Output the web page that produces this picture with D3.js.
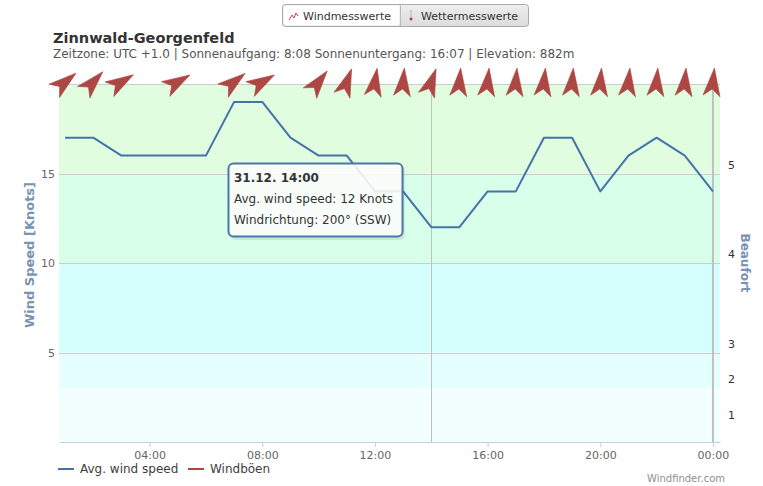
<!DOCTYPE html>
<html><head><meta charset="utf-8">
<script src="https://cdn.jsdelivr.net/npm/d3@7/dist/d3.min.js"></script>
<style>
body{margin:0;background:#fff;}
svg{display:block;font-family:"DejaVu Sans",Verdana,sans-serif;}
</style>
</head><body>
<svg id="chart" width="763" height="486"></svg>
<script>
// ---------- data ----------
const hours = [1,2,3,4,5,6,7,8,9,10,11,12,13,14,15,16,17,18,19,20,21,22,23,24];
const avgSpeed = [17,17,16,16,16,16,19,19,17,16,16,14,14,12,12,14,14,17,17,14,16,17,16,14];
const windDir = [231,223,239,null,240,null,232,240,null,218,200,189,185,200,185,186,185,186,185,185,186,185,185,186];
const gusts = [];
const leftTicks = [5,10,15,20];
const bftTickKnots = [1,3,5,10,15];
const bftLabels = ["1","2","3","4","5"];
const bandEdges = [0,3,5,10,15,20];
const xTickHours = [4,8,12,16,20,24];
const hoverHour = 14;
const seriesNames = ["Avg. wind speed","Windböen"];

// ---------- layout ----------
const svg = d3.select("#chart");
const day = h => new Date(2013,11,31,0,0).getTime() + h*3600000;
const plot = {left:59, right:720, top:84, bottom:442};
const x = d3.scaleTime().domain([new Date(day(47/60)), new Date(day(24.25))]).range([plot.left, plot.right]);
const y = d3.scaleLinear().domain([0,20]).range([plot.bottom, plot.top]);
const bandColors = ["#f2fffe","#e4fffd","#d5fffd","#d7ffe9","#e0fde0"];

// bands
svg.append("g").selectAll("rect").data(d3.range(bandEdges.length-1)).join("rect")
  .attr("x", plot.left).attr("width", plot.right-plot.left)
  .attr("y", i => y(bandEdges[i+1])).attr("height", i => y(bandEdges[i]) - y(bandEdges[i+1]))
  .attr("fill", i => bandColors[i]);

// horizontal grid
svg.append("g").selectAll("line").data(leftTicks).join("line")
  .attr("x1", plot.left).attr("x2", plot.right)
  .attr("y1", d => Math.round(y(d))+0.5).attr("y2", d => Math.round(y(d))+0.5)
  .attr("stroke", "#cccccc").attr("stroke-width", 1);

// left axis labels
svg.append("g").selectAll("text").data(leftTicks.filter(d => d < 20)).join("text")
  .attr("x", 55).attr("y", d => y(d)+4).attr("text-anchor","end")
  .attr("font-size", 11).attr("fill", "#666").text(d => d);

// right Beaufort labels
svg.append("g").selectAll("text").data(bftTickKnots).join("text")
  .attr("x", 728).attr("y", d => y(d)-5).attr("font-size", 11).attr("fill", "#333")
  .text((d,i) => bftLabels[i]);

// x axis
const xAxis = d3.axisBottom(x).tickValues(xTickHours.map(h => new Date(day(h))))
  .tickFormat(d3.timeFormat("%H:%M")).tickSize(5).tickSizeOuter(0);
const gx = svg.append("g").attr("transform", `translate(0,${plot.bottom})`).call(xAxis);
gx.select(".domain").attr("stroke", "#c0d0e0");
gx.selectAll(".tick line").attr("stroke", "#c0d0e0");
gx.selectAll(".tick text").attr("font-size", 11).attr("fill", "#666")
  .attr("font-family", "DejaVu Sans, Verdana, sans-serif").attr("dy", "0.85em");

// vertical lines: midnight plot line and hover crosshair
svg.append("line").attr("x1", x(new Date(day(24)))).attr("x2", x(new Date(day(24))))
  .attr("y1", plot.top).attr("y2", plot.bottom).attr("stroke", "#c0c0c0").attr("stroke-width", 2);
svg.append("line").attr("x1", Math.round(x(new Date(day(hoverHour))))+0.5).attr("x2", Math.round(x(new Date(day(hoverHour))))+0.5)
  .attr("y1", plot.top).attr("y2", plot.bottom).attr("stroke", "#c0c0c0").attr("stroke-width", 1);

// axis titles
svg.append("text").attr("transform", `translate(34,255) rotate(-90)`)
  .attr("text-anchor","middle").attr("font-size", 13).attr("font-weight","bold")
  .attr("fill","#7a92b3").text("Wind Speed [Knots]");
svg.append("text").attr("transform", `translate(741,263) rotate(90)`)
  .attr("text-anchor","middle").attr("font-size", 12).attr("font-weight","bold")
  .attr("fill","#7a92b3").text("Beaufort");

// speed line
const line = d3.line().x((d,i) => x(new Date(day(hours[i])))).y(d => y(d));
svg.append("path").datum(avgSpeed).attr("d", line).attr("fill","none")
  .attr("stroke","#4572a7").attr("stroke-width",2).attr("stroke-linejoin","round");
if (gusts.length) {
  svg.append("path").datum(gusts).attr("d", line).attr("fill","none").attr("stroke","#aa4643").attr("stroke-width",2);
}

// direction arrows
const arrowPath = "M0,-14 L8.5,14 L0,7 L-8.5,14 Z";
svg.append("g").selectAll("path").data(hours.map((h,i) => ({h, d: windDir[i]})).filter(o => o.d !== null)).join("path")
  .attr("d", arrowPath)
  .attr("transform", o => `translate(${x(new Date(day(o.h)))},82) rotate(${o.d-180})`)
  .attr("fill","#ac4743").attr("stroke","#ac4743").attr("stroke-width",0.6).attr("stroke-linejoin","round");

// title & subtitle
svg.append("text").attr("x",53).attr("y",43).attr("font-size",14.5).attr("font-weight","bold")
  .attr("fill","#333").text("Zinnwald-Georgenfeld");
svg.append("text").attr("x",53).attr("y",58).attr("font-size",12).attr("fill","#555")
  .text("Zeitzone: UTC +1.0 | Sonnenaufgang: 8:08 Sonnenuntergang: 16:07 | Elevation: 882m");

// buttons
const btn = svg.append("g");
const grad = svg.append("defs").append("linearGradient").attr("id","bg").attr("x1",0).attr("x2",0).attr("y1",0).attr("y2",1);
grad.append("stop").attr("offset","0").attr("stop-color","#eeeeee");
grad.append("stop").attr("offset","1").attr("stop-color","#dcdcdc");
btn.append("rect").attr("x",282.5).attr("y",4.5).attr("width",246).attr("height",22).attr("rx",3)
  .attr("fill","url(#bg)").attr("stroke","#aaaaaa");
btn.append("rect").attr("x",283.5).attr("y",5.5).attr("width",116).attr("height",20).attr("rx",2).attr("fill","#fff");
btn.append("line").attr("x1",400.5).attr("x2",400.5).attr("y1",5).attr("y2",26).attr("stroke","#bbbbbb");
btn.append("path").attr("d","M289,20 L292,15 L294,18 L296,13 L298,16").attr("fill","none").attr("stroke","#cc4444").attr("stroke-width",1);
btn.append("text").attr("x",303).attr("y",20).attr("font-size",11).attr("fill","#333").text("Windmesswerte");
btn.append("rect").attr("x",410).attr("y",10).attr("width",2).attr("height",8).attr("fill","#cccccc");
btn.append("circle").attr("cx",411).attr("cy",19).attr("r",1.5).attr("fill","#cc3333");
btn.append("text").attr("x",421).attr("y",20).attr("font-size",11).attr("fill","#333").text("Wettermesswerte");

// legend
const lg = svg.append("g");
lg.append("line").attr("x1",58).attr("x2",74).attr("y1",469).attr("y2",469).attr("stroke","#4572a7").attr("stroke-width",2);
lg.append("text").attr("x",80).attr("y",473).attr("font-size",12).attr("fill","#3e3e3e").text(seriesNames[0]);
lg.append("line").attr("x1",188).attr("x2",204).attr("y1",469).attr("y2",469).attr("stroke","#aa4643").attr("stroke-width",2);
lg.append("text").attr("x",210).attr("y",473).attr("font-size",12).attr("fill","#3e3e3e").text(seriesNames[1]);

svg.append("text").attr("x",725).attr("y",482).attr("text-anchor","end").attr("font-size",10)
  .attr("fill","#909090").text("Windfinder.com");

// tooltip
const hi = hours.indexOf(hoverHour);
const tip = svg.append("g");
tip.append("rect").attr("x",230).attr("y",166).attr("width",175).attr("height",74).attr("rx",5)
  .attr("fill","rgba(0,0,0,0.08)");
tip.append("rect").attr("x",228.5).attr("y",163.5).attr("width",174).attr("height",73).attr("rx",5)
  .attr("fill","rgba(255,255,255,0.88)").attr("stroke","#4a76a8").attr("stroke-width",2);
tip.append("text").attr("x",234).attr("y",182).attr("font-size",12).attr("font-weight","bold").attr("fill","#333")
  .text("31.12. " + d3.timeFormat("%H:%M")(new Date(day(hoverHour))));
tip.append("text").attr("x",234).attr("y",203).attr("font-size",12).attr("fill","#333")
  .text(`Avg. wind speed: ${avgSpeed[hi]} Knots`);
tip.append("text").attr("x",234).attr("y",224).attr("font-size",12).attr("fill","#333")
  .text(`Windrichtung: ${windDir[hi]}° (SSW)`);
</script>
</body></html>
